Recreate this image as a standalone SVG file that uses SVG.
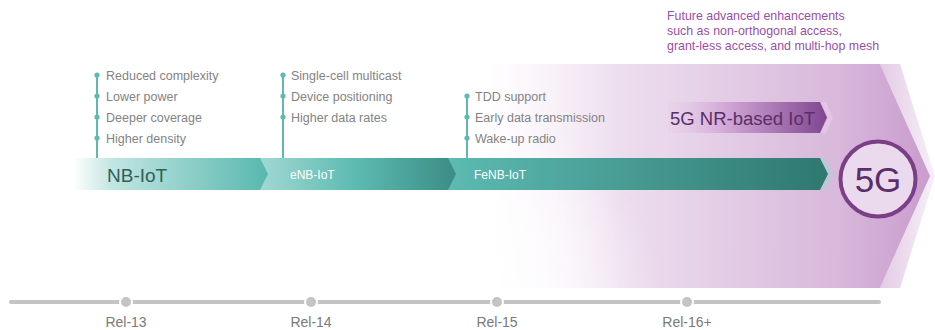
<svg xmlns="http://www.w3.org/2000/svg" width="935" height="330" viewBox="0 0 935 330">
<defs>
<linearGradient id="gBig" gradientUnits="userSpaceOnUse" x1="470" y1="0" x2="930" y2="0">
<stop offset="0" stop-color="#ffffff"/>
<stop offset="0.12" stop-color="#f4eaf5"/>
<stop offset="0.45" stop-color="#e8d5ea"/>
<stop offset="0.8" stop-color="#d8b8db"/>
<stop offset="1" stop-color="#c99ccd"/>
</linearGradient>
<radialGradient id="gFadeR" gradientUnits="userSpaceOnUse" cx="470" cy="300" r="190">
<stop offset="0" stop-color="#ffffff" stop-opacity="0.95"/>
<stop offset="0.5" stop-color="#ffffff" stop-opacity="0.6"/>
<stop offset="1" stop-color="#ffffff" stop-opacity="0"/>
</radialGradient>
<linearGradient id="gFadeH" gradientUnits="userSpaceOnUse" x1="470" y1="0" x2="620" y2="0">
<stop offset="0" stop-color="#ffffff" stop-opacity="1"/>
<stop offset="1" stop-color="#ffffff" stop-opacity="0"/>
</linearGradient>
<linearGradient id="gGhost" gradientUnits="userSpaceOnUse" x1="880" y1="0" x2="935" y2="0">
<stop offset="0" stop-color="#e2cbe5"/>
<stop offset="1" stop-color="#f7f0f8"/>
</linearGradient>
<linearGradient id="g1" gradientUnits="userSpaceOnUse" x1="73" y1="0" x2="268" y2="0">
<stop offset="0" stop-color="#ffffff"/>
<stop offset="0.2" stop-color="#c2e5e1"/>
<stop offset="1" stop-color="#58b8af"/>
</linearGradient>
<linearGradient id="g2" gradientUnits="userSpaceOnUse" x1="258" y1="0" x2="456" y2="0">
<stop offset="0" stop-color="#a2d9d3"/>
<stop offset="0.5" stop-color="#5cbab1"/>
<stop offset="1" stop-color="#3b8d85"/>
</linearGradient>
<linearGradient id="g3" gradientUnits="userSpaceOnUse" x1="447" y1="0" x2="828" y2="0">
<stop offset="0" stop-color="#5dbbb2"/>
<stop offset="1" stop-color="#2e7870"/>
</linearGradient>
<linearGradient id="gNR" gradientUnits="userSpaceOnUse" x1="668" y1="0" x2="828" y2="0">
<stop offset="0" stop-color="#e6cfe8" stop-opacity="0.3"/>
<stop offset="0.35" stop-color="#d3a9d7"/>
<stop offset="1" stop-color="#7f4590"/>
</linearGradient>
<style>
.item{font-family:"Liberation Sans",Arial,sans-serif;font-size:12.5px;fill:#838383}
.vline{stroke:#5cbab1;stroke-width:2;fill:none}
.dot{fill:#5cbab1}
.rel{font-family:"Liberation Sans",Arial,sans-serif;font-size:14px;fill:#7a7a7a;text-anchor:middle}
.tl{stroke:#c4c4c4;stroke-width:4;stroke-linecap:round}
.tdot{fill:#c4c4c4;stroke:#ffffff;stroke-width:2}
.future{font-family:"Liberation Sans",Arial,sans-serif;font-size:12.4px;fill:#9a4fa5}
</style>
</defs>
<rect width="935" height="330" fill="#ffffff"/>

<g id="region-5g">
<polygon points="880,64 900,64 935,176 900,288 880,288 930,176" fill="url(#gGhost)"/>
<polygon points="470,64 880,64 930,176 880,288 470,288" fill="url(#gBig)"/>
<polygon points="470,64 620,64 620,288 470,288" fill="url(#gFadeH)"/>
<rect x="470" y="110" width="190" height="178" fill="url(#gFadeR)"/>
</g>

<g id="future-text">
<text class="future" x="667" y="20">Future advanced enhancements</text>
<text class="future" x="667" y="35">such as non-orthogonal access,</text>
<text class="future" x="667" y="50">grant-less access, and multi-hop mesh</text>
</g>

<g id="connectors">
<line class="vline" x1="97" y1="75" x2="97" y2="158"/>
<line class="vline" x1="283" y1="75" x2="283" y2="158"/>
<line class="vline" x1="467" y1="96" x2="467" y2="158"/>
</g>

<g id="nbiot-features">
<circle class="dot" cx="97" cy="75" r="2.6"/>
<circle class="dot" cx="97" cy="96" r="2.6"/>
<circle class="dot" cx="97" cy="117" r="2.6"/>
<circle class="dot" cx="97" cy="138" r="2.6"/>
<text class="item" x="106" y="79.5">Reduced complexity</text>
<text class="item" x="106" y="100.5">Lower power</text>
<text class="item" x="106" y="121.5">Deeper coverage</text>
<text class="item" x="106" y="142.5">Higher density</text>
</g>

<g id="enbiot-features">
<circle class="dot" cx="283" cy="75" r="2.6"/>
<circle class="dot" cx="283" cy="96" r="2.6"/>
<circle class="dot" cx="283" cy="117" r="2.6"/>
<text class="item" x="291" y="79.5">Single-cell multicast</text>
<text class="item" x="291" y="100.5">Device positioning</text>
<text class="item" x="291" y="121.5">Higher data rates</text>
</g>

<g id="fenbiot-features">
<circle class="dot" cx="467" cy="96" r="2.6"/>
<circle class="dot" cx="467" cy="117" r="2.6"/>
<circle class="dot" cx="467" cy="138" r="2.6"/>
<text class="item" x="475" y="100.5">TDD support</text>
<text class="item" x="475" y="121.5">Early data transmission</text>
<text class="item" x="475" y="142.5">Wake-up radio</text>
</g>

<g id="fenbiot">
<polygon points="826,158 834,174 826,190 820,190 828,174 820,158" fill="#b5cdd2" opacity="0.7"/>
<polygon points="447,158 820,158 828,174 820,190 447,190 455,174" fill="url(#g3)"/>
<text x="474" y="179" font-family="'Liberation Sans',Arial,sans-serif" font-size="12" fill="#ffffff">FeNB-IoT</text>
</g>

<g id="enbiot">
<polygon points="258,158 448,158 456,174 448,190 258,190 266,174" fill="url(#g2)"/>
<text x="290" y="179" font-family="'Liberation Sans',Arial,sans-serif" font-size="12" fill="#ffffff">eNB-IoT</text>
</g>

<g id="nbiot">
<polygon points="73,158 260,158 268,174 260,190 73,190" fill="url(#g1)"/>
<text x="107" y="182" font-family="'Liberation Sans',Arial,sans-serif" font-size="19" fill="#2f615c">NB-IoT</text>
</g>

<g id="nr-iot">
<polygon points="826,102 833,117.5 826,133 821,133 828,117.5 821,102" fill="#e2c6e5"/>
<polygon points="668,102 820,102 827,117.5 820,133 668,133" fill="url(#gNR)"/>
<text x="670" y="124.5" font-family="'Liberation Sans',Arial,sans-serif" font-size="18.5" fill="#5b2e68">5G NR-based IoT</text>
</g>

<g id="node-5g">
<circle cx="878" cy="179" r="37.5" fill="#ebdaed" stroke="#7b3f88" stroke-width="4"/>
<text x="878" y="192" text-anchor="middle" font-family="'Liberation Sans',Arial,sans-serif" font-size="35" fill="#5b2e68">5G</text>
</g>

<g id="timeline">
<line class="tl" x1="11" y1="302" x2="879" y2="302"/>
<circle class="tdot" cx="126" cy="302" r="6"/>
<circle class="tdot" cx="311" cy="302" r="6"/>
<circle class="tdot" cx="497" cy="302" r="6"/>
<circle class="tdot" cx="687" cy="302" r="6"/>
<text class="rel" x="126" y="327">Rel-13</text>
<text class="rel" x="311" y="327">Rel-14</text>
<text class="rel" x="497" y="327">Rel-15</text>
<text class="rel" x="687" y="327">Rel-16+</text>
</g>
</svg>
